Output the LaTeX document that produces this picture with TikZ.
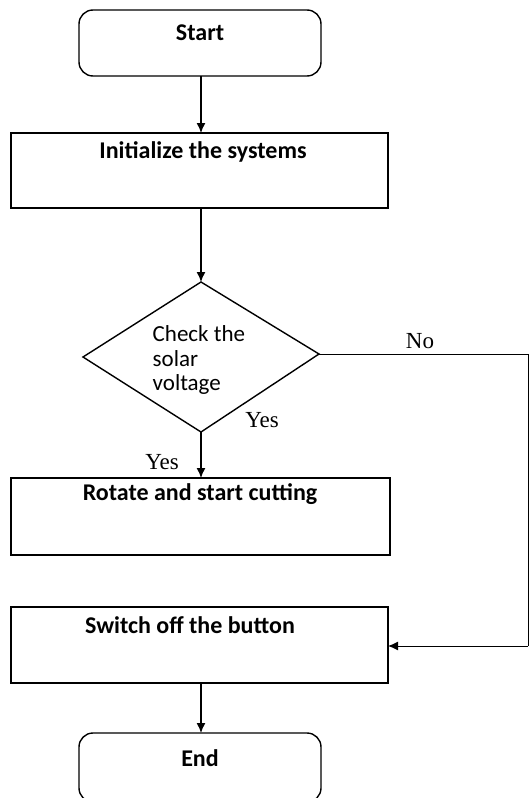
\documentclass[tikz,border=0pt]{standalone}
\usepackage{fontspec}
\setmainfont{Liberation Serif}
\newfontfamily\calib{Carlito}
\usetikzlibrary{arrows.meta,shapes.geometric}
\begin{document}
\begin{tikzpicture}[x=1pt,y=-1pt,
  line width=1.4pt,
  arr/.style={-{Latex[length=10pt,width=9pt]}},
  thin line/.style={line width=1pt},
  lbl/.style={font=\fontsize{23}{26}\selectfont, inner sep=0pt},
  boxtext/.style={font=\calib\bfseries\fontsize{24}{28}\selectfont, inner sep=0pt},
]
\useasboundingbox (0,0) rectangle (529,798);
% Start
\draw[rounded corners=14pt] (79,10) rectangle (321,76);
\node[boxtext] (starttxt) at (200,33) {Start};
\coordinate (startb) at (201,76);
% Initialize
\draw (11,133) rectangle (388,208);
\coordinate (initt) at (201,133);
\coordinate (initb) at (201,208);
\node[boxtext] (inittxt) at (203,152) {Initialize the systems};
% Decision
\draw (201,282) coordinate (dt) -- (319,354) coordinate (dr) -- (201,432) coordinate (db) -- (83,357) coordinate (dl) -- cycle;
\node[font=\calib\fontsize{23}{24.5}\selectfont, align=left, anchor=north west, inner sep=0pt] (dtxt) at (152,325) {Check the\\solar\\voltage};
% Rotate
\draw (11,478) rectangle (390,555);
\coordinate (rott) at (201,478);
\node[boxtext] (rottxt) at (200,494) {Rotate and start cutting};
% Switch
\draw (11,607) rectangle (388,683);
\coordinate (swr) at (388,646);
\coordinate (swb) at (201,683);
\node[boxtext] (swtxt) at (190,625) {Switch off the button};
% End
\draw[rounded corners=14pt] (79,733) rectangle (321,802);
\coordinate (endt) at (201,733);
\node[boxtext] (endtxt) at (200,758) {End};
% connectors
\draw[arr] (startb) -- (initt);
\draw[arr] (initb) -- (dt);
\draw[arr] (db) -- (rott);
\coordinate (c1) at (528,354);
\coordinate (c2) at (528,646);
\draw[thin line] (dr) -- (c1);
\draw[thin line] (c1) -- (c2);
\draw[arr,thin line] (c2) -- (swr);
\draw[arr] (swb) -- (endt);
% labels
\node[lbl] (no) at (420,341) {No};
\node[lbl] (yes1) at (262,420) {Yes};
\node[lbl] (yes2) at (162,462) {Yes};
\end{tikzpicture}
\end{document}
